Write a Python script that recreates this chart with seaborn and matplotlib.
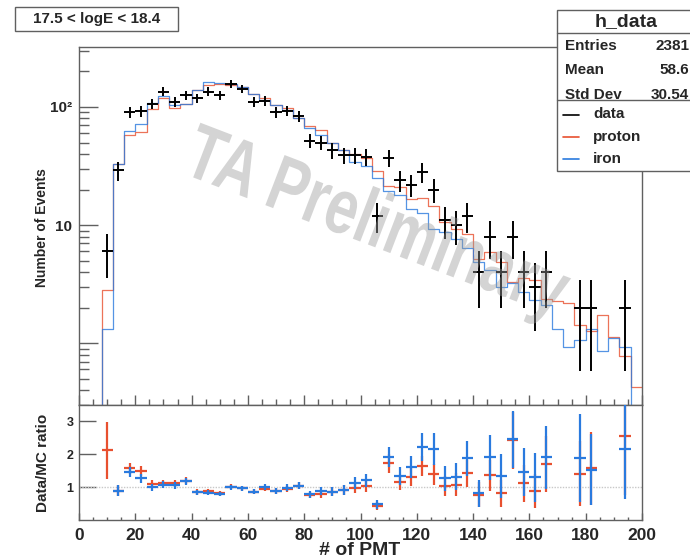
import numpy as np
import pandas as pd
import matplotlib
matplotlib.use("Agg")
import matplotlib.pyplot as plt
import seaborn as sns
from matplotlib.patches import Rectangle, PathPatch
from matplotlib.textpath import TextPath
from matplotlib.font_manager import FontProperties
from matplotlib.transforms import Affine2D
from matplotlib.ticker import MultipleLocator, NullFormatter, LogLocator

# ---------------- data ----------------
bin_centers = [10, 14, 18, 22, 26, 30, 34, 38, 42, 46, 50, 54, 58, 62, 66, 70, 74, 78,
               82, 86, 90, 94, 98, 102, 106, 110, 114, 118, 122, 126, 130, 134, 138,
               142, 146, 150, 154, 158, 162, 166, 170, 174, 178, 182, 186, 190, 194, 198]
bin_width = 4

data_counts = [6, 29, 91, 92, 107, 135, 110, 126, 118, 135, 126, 157, 142, 111, 113, 91,
               93, 84, 52, 50, 43, 39, 39, 38, 12, 37, 24, 22, 28, 20, 11, 10, 12, 4, 8,
               4, 8, 4, 3, 4, 0, 0, 2, 2, 0, 0, 2, 0]

proton = [2.83, 32.6, 57.6, 61.7, 96.4, 119.5, 98.2, 105.9, 138.8, 154, 156, 155, 147,
          129, 118, 104.6, 99, 80, 68.4, 64.1, 50, 42.9, 40.2, 36.9, 28.6, 21.4, 21,
          16.7, 17.1, 14.4, 10.6, 9.3, 8.4, 5.2, 5.9, 4.9, 3.3, 3.6, 3.4, 2.35, 2.28,
          2.19, 1.42, 1.27, 1.75, 1.12, 0.78, 0.43]

iron = [1.31, 32.6, 62.3, 72.4, 108, 125, 103.8, 106.8, 140.5, 162, 160, 157, 147, 129,
        114, 104.6, 95, 80, 66.7, 57.5, 50, 42.9, 34.2, 31.4, 25, 19.3, 17.9, 13.6,
        12.6, 9.2, 8.7, 7.6, 6.4, 4.9, 4.2, 3.0, 3.25, 2.74, 2.31, 2.1, 1.33, 0.93,
        1.06, 1.31, 0.86, 1.10, 0.93, 0.0]

title_text = "17.5 < logE < 18.4"
stats_name = "h_data"
stats_rows = [("Entries", "2381"), ("Mean", "58.6"), ("Std Dev", "30.54")]
legend_labels = ["data", "proton", "iron"]
watermark = "TA Preliminary"
xlabel = "# of PMT"
ylabel_top = "Number of Events"
ylabel_bot = "Data/MC ratio"
x_ticks = [0, 20, 40, 60, 80, 100, 120, 140, 160, 180, 200]
ratio_ticks = [1, 2, 3]

# ---------------- style ----------------
sns.set_theme(style="white")
plt.rcParams["font.family"] = ["Liberation Sans", "DejaVu Sans"]
plt.rcParams["font.weight"] = "bold"

RED = "#e8502f"
BLUE = "#2a7ade"
FRAME = "#606060"

W, H = 690, 559
fig = plt.figure(figsize=(W / 100, H / 100), dpi=100)
fig.patch.set_facecolor("white")

L = 79 / W
AW = 563 / W
ax = fig.add_axes([L, 1 - 405 / H, AW, (405 - 47) / H])
axr = fig.add_axes([L, 1 - 520 / H, AW, (520 - 405) / H])

centers = np.array(bin_centers, dtype=float)
half = bin_width / 2
hist_x = np.concatenate([[centers[0] - bin_width], centers])
lo = float(hist_x[0] - half)
hi = float(centers[-1] + half)

df = pd.DataFrame({
    "x": np.concatenate([hist_x, hist_x]),
    "w": np.concatenate([[0.0], proton, [0.0], iron]),
    "model": ["proton"] * len(hist_x) + ["iron"] * len(hist_x),
})

# ---------------- upper panel ----------------
for name, col in [("proton", RED), ("iron", BLUE)]:
    sub = df[df["model"] == name].reset_index(drop=True)
    sns.histplot(data=sub, x="x", weights="w", binwidth=bin_width, binrange=(lo, hi),
                 element="step", fill=False, color=col, linewidth=0.9, alpha=0.8, ax=ax)

d = np.array(data_counts, dtype=float)
mask = d > 0
ax.errorbar(centers[mask], d[mask], xerr=half, yerr=np.sqrt(d[mask]), fmt="none",
            ecolor="black", elinewidth=1.4, capsize=0, zorder=5)

ax.set_yscale("log")
ax.set_xlim(0, 200)
ax.set_ylim(0.30, 322)
ax.set_xlabel("")
ax.set_ylabel("")

ax.set_yticks([1, 10, 100])
ax.set_yticklabels(["", "10", "10²"])
ax.yaxis.set_minor_locator(LogLocator(base=10, subs=np.arange(2, 10)))
ax.yaxis.set_minor_formatter(NullFormatter())
ax.xaxis.set_major_locator(MultipleLocator(20))
ax.xaxis.set_minor_locator(MultipleLocator(5))
ax.tick_params(axis="x", which="both", direction="in", bottom=True, top=False,
               labelbottom=False, color=FRAME)
ax.tick_params(axis="x", which="major", length=7, width=1)
ax.tick_params(axis="x", which="minor", length=4, width=1)
ax.tick_params(axis="y", which="both", direction="in", left=True, right=False,
               color=FRAME, labelsize=11, pad=5)
ax.tick_params(axis="y", which="major", length=14, width=1)
ax.tick_params(axis="y", which="minor", length=7, width=1)
for s in ax.spines.values():
    s.set_color(FRAME)
    s.set_linewidth(1)

# ---------------- ratio panel ----------------
for mc, col in [(proton, RED), (iron, BLUE)]:
    m = np.array(mc, dtype=float)
    ok = mask & (m > 0)
    r = d[ok] / m[ok]
    e = np.sqrt(d[ok]) / m[ok]
    keep = r < 3.5
    axr.errorbar(centers[ok][keep], r[keep], xerr=half, yerr=e[keep], fmt="none",
                 ecolor=col, elinewidth=1.6, capsize=0, zorder=4)

axr.axhline(1, color="#c8c8c8", lw=1, ls=(0, (1, 1)), zorder=1)
axr.set_xlim(0, 200)
axr.set_ylim(0, 3.5)
axr.set_xticks(x_ticks)
axr.set_xticklabels([str(t) for t in x_ticks])
axr.xaxis.set_minor_locator(MultipleLocator(5))
axr.set_yticks(ratio_ticks)
axr.set_yticklabels([str(t) for t in ratio_ticks])
axr.tick_params(axis="x", which="both", direction="in", bottom=True, top=False,
                color=FRAME, labelsize=12.5, pad=6)
axr.tick_params(axis="x", which="major", length=5, width=1)
axr.tick_params(axis="x", which="minor", length=2.5, width=1)
axr.tick_params(axis="y", which="both", direction="in", left=True, right=False,
                color=FRAME, labelsize=9, pad=4)
axr.tick_params(axis="y", which="major", length=12, width=1)
axr.tick_params(axis="y", which="minor", length=0)
for s in axr.spines.values():
    s.set_color(FRAME)
    s.set_linewidth(1)
for lab in axr.get_xticklabels() + axr.get_yticklabels() + ax.get_yticklabels():
    lab.set_fontweight("bold")

# ---------------- overlay (annotations) ----------------
ov = fig.add_axes([0, 0, 1, 1], zorder=10)
ov.set_xlim(0, W)
ov.set_ylim(H, 0)
ov.axis("off")

# watermark
tp = TextPath((0, 0), watermark, size=1,
              prop=FontProperties(family="Liberation Sans", weight="bold"))
ext = tp.get_extents()
cx, cy = (ext.x0 + ext.x1) / 2, (ext.y0 + ext.y1) / 2
wm_tr = Affine2D().translate(-cx, -cy).scale(58, -78).rotate_deg(21).translate(376, 226)
ov.add_patch(PathPatch(wm_tr.transform_path(tp), facecolor="#9a9a9a", edgecolor="none",
                       alpha=0.42, zorder=20))

# title box
ov.add_patch(Rectangle((15, 7), 163, 24, facecolor="white", edgecolor=FRAME, lw=1))
ov.text(96.5, 19.5, title_text, ha="center", va="center", fontsize=11, fontweight="bold")

# stats + legend box
ov.add_patch(Rectangle((557, 10), 140, 161, facecolor="white", edgecolor=FRAME, lw=1))
ov.plot([557, 697], [33, 33], color=FRAME, lw=1)
ov.plot([557, 697], [99.5, 99.5], color=FRAME, lw=1)
ov.text(626, 22, stats_name, ha="center", va="center", fontsize=14, fontweight="bold")
for (lab, val), y in zip(stats_rows, [45.5, 70, 95]):
    ov.text(565, y, lab, ha="left", va="center", fontsize=11, fontweight="bold")
    ov.text(689, y, val, ha="right", va="center", fontsize=11, fontweight="bold")
for lab, col, y in zip(legend_labels, ["black", RED, BLUE], [114.5, 137, 159]):
    ov.plot([563, 579], [y, y], color=col, lw=1.2)
    ov.text(593, y, lab, ha="left", va="center", fontsize=11, fontweight="bold")

# axis titles
ov.text(360, 555, xlabel, ha="center", va="baseline", fontsize=14, fontweight="bold")
ov.text(42, 228, ylabel_top, ha="center", va="center", rotation=90, fontsize=10,
        fontweight="bold")
ov.text(43, 463, ylabel_bot, ha="center", va="center", rotation=90, fontsize=11,
        fontweight="bold")

fig.savefig("out.png", dpi=100)
